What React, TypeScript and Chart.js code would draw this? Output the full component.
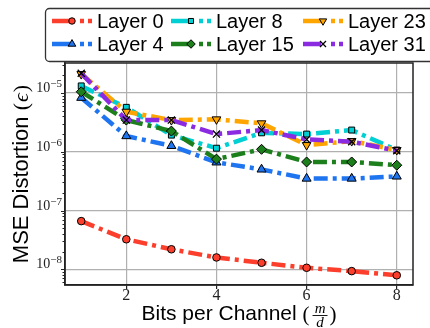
import React, { useEffect, useRef } from 'react';
import { Chart, registerables } from 'chart.js';

Chart.register(...registerables);

// ---- data ----
const bits = [1, 2, 3, 4, 5, 6, 7, 8];
const layerNames = ['Layer 0', 'Layer 4', 'Layer 8', 'Layer 15', 'Layer 23', 'Layer 31'];
const layer0 = [6.6e-8, 3.24e-8, 2.19e-8, 1.59e-8, 1.29e-8, 1.06e-8, 9.3e-9, 7.9e-9];
const layer4 = [8.3e-6, 1.85e-6, 1.26e-6, 6.6e-7, 5.0e-7, 3.5e-7, 3.5e-7, 3.8e-7];
const layer8 = [1.32e-5, 5.7e-6, 1.92e-6, 1.15e-6, 2.1e-6, 2.0e-6, 2.34e-6, 1.07e-6];
const layer15 = [1.05e-5, 3.46e-6, 2.25e-6, 7.5e-7, 1.1e-6, 6.7e-7, 6.7e-7, 5.9e-7];
const layer23 = [2.1e-5, 4.8e-6, 3.46e-6, 3.56e-6, 3.05e-6, 1.3e-6, 1.52e-6, 1.07e-6];
const layer31 = [2.17e-5, 3.46e-6, 3.46e-6, 2.0e-6, 2.34e-6, 1.62e-6, 1.48e-6, 1.04e-6];
const xTicks = [2, 4, 6, 8];
const yTickExponents = [-8, -7, -6, -5];
const xTitle = 'Bits per Channel ';
const yTitle = 'MSE Distortion ';

// ---- styles ----
const seriesValues = [layer0, layer4, layer8, layer15, layer23, layer31];
const colors = ['#fb3f2c', '#1f74f0', '#00cfd4', '#1c7f1c', '#ffa500', '#8a2be2'];
const markers = ['circle', 'triangle', 'rect', 'rectRot', 'triangleDown', 'crossRot'];
const markerRadius = [3.8, 5.2, 4.2, 5, 5, 5];
const DASH = [14, 5, 4, 5];
const SANS = '"Liberation Sans", Arial, sans-serif';
const SERIF = '"Liberation Serif", "DejaVu Serif", serif';

function drawMarker(ctx: CanvasRenderingContext2D, kind: string, x: number, y: number, r: number, fill: string) {
  ctx.save();
  ctx.setLineDash([]);
  ctx.lineWidth = 1;
  ctx.strokeStyle = '#000';
  ctx.fillStyle = fill;
  ctx.beginPath();
  if (kind === 'circle') {
    ctx.arc(x, y, r, 0, Math.PI * 2);
  } else if (kind === 'triangle' || kind === 'triangleDown') {
    const s = kind === 'triangle' ? 1 : -1;
    const h = r * 1.5;
    ctx.moveTo(x, y - s * r);
    ctx.lineTo(x - r * 0.866, y - s * r + s * h);
    ctx.lineTo(x + r * 0.866, y - s * r + s * h);
    ctx.closePath();
  } else if (kind === 'rect') {
    const a = r * 0.7071;
    ctx.rect(x - a, y - a, 2 * a, 2 * a);
  } else if (kind === 'rectRot') {
    ctx.moveTo(x, y - r);
    ctx.lineTo(x + r, y);
    ctx.lineTo(x, y + r);
    ctx.lineTo(x - r, y);
    ctx.closePath();
  } else if (kind === 'crossRot') {
    const a = r * 0.7071;
    ctx.moveTo(x - a, y - a);
    ctx.lineTo(x + a, y + a);
    ctx.moveTo(x + a, y - a);
    ctx.lineTo(x - a, y + a);
    ctx.lineWidth = 1.3;
    ctx.stroke();
    ctx.restore();
    return;
  }
  ctx.fill();
  ctx.stroke();
  ctx.restore();
}

const decorPlugin = {
  id: 'decor',
  afterDraw(chart: any) {
    const ctx: CanvasRenderingContext2D = chart.ctx;
    const area = chart.chartArea;
    const ys = chart.scales.y;
    ctx.save();

    // frame
    ctx.strokeStyle = '#222';
    ctx.lineWidth = 1.5;
    ctx.setLineDash([]);
    ctx.strokeRect(area.left, area.top, area.right - area.left, area.bottom - area.top);

    // y ticks (major + minor) and labels
    ctx.lineWidth = 1;
    for (let e = -9; e <= -4; e++) {
      for (let m = 1; m <= 9; m++) {
        const v = m * Math.pow(10, e);
        if (v < ys.min || v > ys.max) continue;
        const y = Math.round(ys.getPixelForValue(v)) + 0.5;
        ctx.beginPath();
        ctx.moveTo(area.left - (m === 1 ? 4 : 2.5), y);
        ctx.lineTo(area.left, y);
        ctx.stroke();
      }
    }
    ctx.fillStyle = '#222';
    ctx.textBaseline = 'alphabetic';
    ctx.textAlign = 'left';
    for (const e of yTickExponents) {
      const y = ys.getPixelForValue(Math.pow(10, e));
      const base = '10';
      const sup = '\u2212' + Math.abs(e);
      ctx.font = '14px ' + SERIF;
      const w1 = ctx.measureText(base).width;
      ctx.font = '11px ' + SERIF;
      const w2 = ctx.measureText(sup).width;
      const right = area.left - 3;
      ctx.font = '14px ' + SERIF;
      ctx.fillText(base, right - w2 - w1, y - 1);
      ctx.font = '11px ' + SERIF;
      ctx.fillText(sup, right - w2, y - 6);
    }

    // x title with fraction
    ctx.fillStyle = '#000';
    ctx.font = '21px ' + SANS;
    const wMain = ctx.measureText(xTitle).width;
    ctx.font = '21px ' + SERIF;
    const wOpen = ctx.measureText('(').width;
    const wClose = ctx.measureText(')').width;
    const fracW = 15;
    const total = wMain + wOpen + 3 + fracW + 2 + wClose;
    const cx = (area.left + area.right) / 2;
    const x0 = cx - total / 2;
    const base = 320;
    ctx.font = '21px ' + SANS;
    ctx.textAlign = 'left';
    ctx.fillText(xTitle, x0, base);
    ctx.font = '21px ' + SERIF;
    ctx.fillText('(', x0 + wMain, base + 1);
    const fx = x0 + wMain + wOpen + 3;
    ctx.font = 'italic 15px ' + SERIF;
    ctx.textAlign = 'center';
    ctx.fillText('m', fx + fracW / 2, base - 7);
    ctx.fillText('d', fx + fracW / 2, base + 7);
    ctx.beginPath();
    ctx.moveTo(fx, base - 4.5);
    ctx.lineTo(fx + fracW, base - 4.5);
    ctx.lineWidth = 0.9;
    ctx.strokeStyle = '#000';
    ctx.stroke();
    ctx.textAlign = 'left';
    ctx.font = '21px ' + SERIF;
    ctx.fillText(')', fx + fracW + 2, base + 1);

    // y title
    ctx.save();
    const yc = (area.top + area.bottom) / 2;
    ctx.translate(28, yc);
    ctx.rotate(-Math.PI / 2);
    ctx.font = '22px ' + SANS;
    const wy1 = ctx.measureText(yTitle).width;
    ctx.font = '22px ' + SERIF;
    const wp = ctx.measureText('(').width;
    ctx.font = 'italic 22px ' + SERIF;
    const we = ctx.measureText('\u03f5').width;
    const ytot = wy1 + wp * 2 + we + 2;
    let yx = -ytot / 2;
    ctx.font = '22px ' + SANS;
    ctx.fillText(yTitle, yx, 0);
    yx += wy1;
    ctx.font = '22px ' + SERIF;
    ctx.fillText('(', yx, 0);
    yx += wp + 1;
    ctx.font = 'italic 22px ' + SERIF;
    ctx.fillText('\u03f5', yx, 0);
    yx += we + 1;
    ctx.font = '22px ' + SERIF;
    ctx.fillText(')', yx, 0);
    ctx.restore();

    // legend
    ctx.fillStyle = '#fff';
    ctx.strokeStyle = '#333';
    ctx.lineWidth = 1.3;
    ctx.beginPath();
    const bx = 45.5, by = 8.5, bw = 400, bh = 53, rr = 4;
    ctx.moveTo(bx + rr, by);
    ctx.lineTo(bx + bw - rr, by);
    ctx.arcTo(bx + bw, by, bx + bw, by + rr, rr);
    ctx.lineTo(bx + bw, by + bh - rr);
    ctx.arcTo(bx + bw, by + bh, bx + bw - rr, by + bh, rr);
    ctx.lineTo(bx + rr, by + bh);
    ctx.arcTo(bx, by + bh, bx, by + bh - rr, rr);
    ctx.lineTo(bx, by + rr);
    ctx.arcTo(bx, by, bx + rr, by, rr);
    ctx.closePath();
    ctx.fill();
    ctx.stroke();

    const colX = [52, 171, 303];
    const rowY = [21, 44];
    layerNames.forEach((name, i) => {
      const col = Math.floor(i / 2);
      const row = i % 2;
      const hx = colX[col];
      const cy = rowY[row];
      ctx.strokeStyle = colors[i];
      ctx.lineWidth = 4.5;
      ctx.lineCap = 'butt';
      ctx.setLineDash([]);
      ctx.beginPath();
      ctx.moveTo(hx, cy);
      ctx.lineTo(hx + 18, cy);
      ctx.moveTo(hx + 28, cy);
      ctx.lineTo(hx + 32, cy);
      ctx.moveTo(hx + 36, cy);
      ctx.lineTo(hx + 40, cy);
      ctx.stroke();
      drawMarker(ctx, markers[i], hx + 20, cy, markerRadius[i] * 0.85, colors[i]);
      ctx.fillStyle = '#000';
      ctx.font = '20px ' + SANS;
      ctx.textAlign = 'left';
      ctx.textBaseline = 'alphabetic';
      ctx.fillText(name, hx + 45, cy + 7);
    });

    ctx.restore();
  },
};

export default function App() {
  const ref = useRef<HTMLCanvasElement | null>(null);
  useEffect(() => {
    if (!ref.current) return;
    const datasets = seriesValues.map((vals, i) => ({
      label: layerNames[i],
      data: bits.map((b, j) => ({ x: b, y: vals[j] })),
      borderColor: colors[i],
      backgroundColor: colors[i],
      borderWidth: 4.5,
      borderDash: DASH,
      borderCapStyle: 'butt' as const,
      borderJoinStyle: 'round' as const,
      pointStyle: markers[i] === 'triangleDown' ? 'triangle' : markers[i],
      pointRotation: markers[i] === 'triangleDown' ? 180 : 0,
      pointRadius: markerRadius[i],
      pointBackgroundColor: colors[i],
      pointBorderColor: '#000',
      pointBorderWidth: markers[i] === 'crossRot' ? 1.3 : 1,
      tension: 0,
      order: seriesValues.length - i,
    }));
    const chart = new Chart(ref.current, {
      type: 'line',
      data: { datasets },
      options: {
        responsive: false,
        animation: false,
        devicePixelRatio: 1,
        layout: { padding: { top: 63, right: 17, left: 0, bottom: 0 } },
        plugins: { legend: { display: false }, tooltip: { enabled: false } },
        scales: {
          x: {
            type: 'linear',
            min: 0.64,
            max: 8.36,
            afterBuildTicks: (s: any) => {
              s.ticks = xTicks.map((v) => ({ value: v }));
            },
            afterFit: (s: any) => {
              s.height = 43;
            },
            ticks: {
              font: { family: SERIF, size: 16 },
              color: '#222',
              padding: -3,
              maxRotation: 0,
              autoSkip: false,
              callback: (v: any) => String(v),
            },
            grid: { color: '#b0b0b0', lineWidth: 1.2, tickLength: 4, tickColor: '#222' },
            border: { color: '#222', width: 1.5 },
          },
          y: {
            type: 'logarithmic',
            min: 5.4e-9,
            max: 3.24e-5,
            afterBuildTicks: (s: any) => {
              s.ticks = yTickExponents.map((e) => ({ value: Math.pow(10, e) }));
            },
            afterFit: (s: any) => {
              s.width = 65;
            },
            ticks: { display: false },
            grid: { color: '#b0b0b0', lineWidth: 1.2, drawTicks: false },
            border: { color: '#222', width: 1.5 },
          },
        },
      },
      plugins: [decorPlugin],
    });
    return () => chart.destroy();
  }, []);
  return (
    <div style={{ position: 'fixed', left: 0, top: 0, width: 430, height: 328, background: '#fff' }}>
      <canvas ref={ref} width={430} height={328} style={{ width: 430, height: 328, display: 'block' }} />
    </div>
  );
}
